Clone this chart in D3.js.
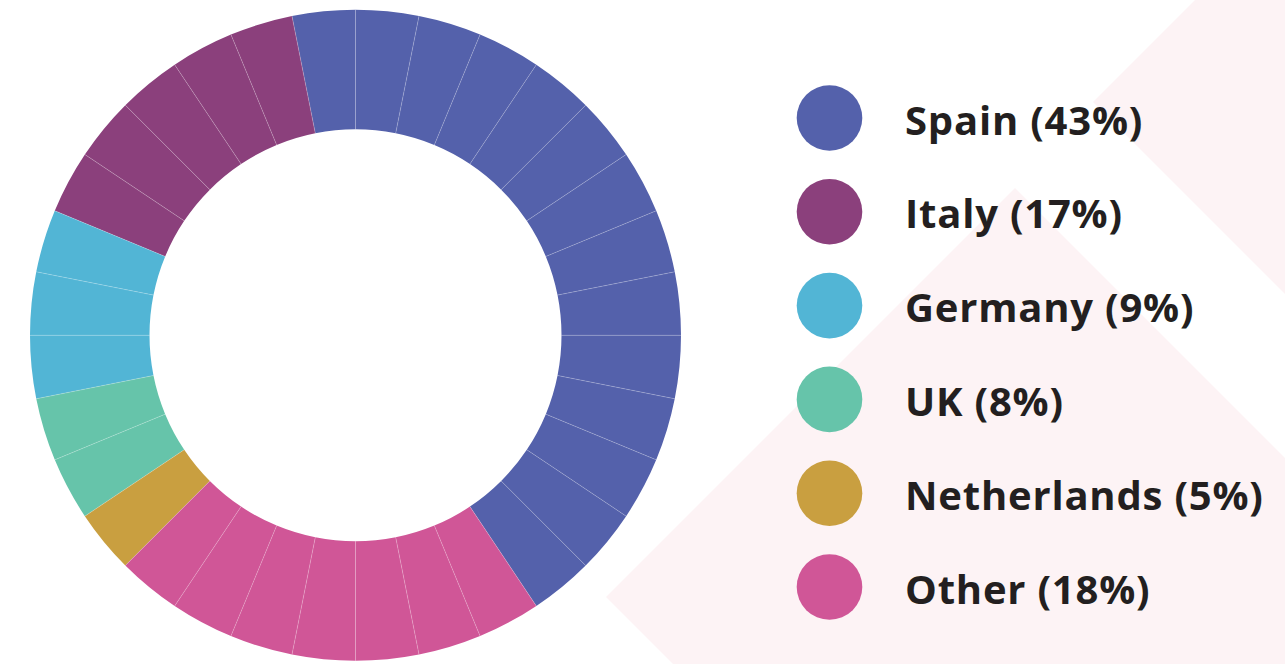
<!DOCTYPE html>
<html>
<head>
<meta charset="utf-8">
<script src="https://cdn.jsdelivr.net/npm/d3@7"></script>
<style>
  html, body { margin: 0; padding: 0; background: #ffffff; }
  svg { display: block; }
</style>
</head>
<body>
<div id="chart"></div>
<script>
// ---------------- data ----------------
const countries = ["Spain", "Italy", "Germany", "UK", "Netherlands", "Other"];
const shares    = [43, 17, 9, 8, 5, 18];          // legend percentages
const segments  = [14, 5, 3, 2, 1, 7];            // small wedges drawn per country
const colours   = ["#5461ab", "#8b407c", "#52b5d5", "#66c4aa", "#c99f40", "#d05697"];

const width = 1285, height = 664;

let svg = d3.select("#chart")
            .append("svg")
            .attr("width", width)
            .attr("height", height)

// pale background shapes
svg.append("rect").attr("width", width).attr("height", height).style("fill", "#ffffff")
svg.append("polygon")
   .attr("points", "1015,188 1285,458 1285,664 673,664 606,597")
   .style("fill", "#fdf3f5")
svg.append("polygon")
   .attr("points", "1195,0 1285,0 1285,294 1093,102")
   .style("fill", "#fdf3f5")

// ---------------- donut ----------------
const cx = 355.5, cy = 335.3, rOuter = 325.5, rInner = 206;
const deg = Math.PI / 180;

// countries run counter-clockwise, Spain ending just left of 12 o'clock
const pie = d3.pie()
              .sort(null)
              .value(d => d.segments)
              .startAngle(146.25 * deg)
              .endAngle((146.25 - 360) * deg)

const rows = countries.map((c, i) => ({country: c, share: shares[i], segments: segments[i], colour: colours[i]}))
const slices = pie(rows)

// split every country slice into its equal wedges
let wedges = []
slices.forEach(s => {
    const n = s.data.segments
    for (let j = 0; j < n; j++) {
        wedges.push({
            colour: s.data.colour,
            startAngle: s.startAngle + (s.endAngle - s.startAngle) * j / n,
            endAngle: s.startAngle + (s.endAngle - s.startAngle) * (j + 1) / n
        })
    }
})

const arc = d3.arc().innerRadius(rInner).outerRadius(rOuter)

let donut = svg.append("g").attr("transform", `translate(${cx},${cy})`)

donut.selectAll("path")
     .data(wedges)
     .enter()
     .append("path")
     .attr("d", arc)
     .style("fill", d => d.colour)

// thin light dividers between wedges
donut.selectAll("line")
     .data(wedges)
     .enter()
     .append("line")
     .attr("x1", d => d3.pointRadial(d.startAngle, rInner)[0])
     .attr("y1", d => d3.pointRadial(d.startAngle, rInner)[1])
     .attr("x2", d => d3.pointRadial(d.startAngle, rOuter)[0])
     .attr("y2", d => d3.pointRadial(d.startAngle, rOuter)[1])
     .style("stroke", "#ffffff")
     .style("stroke-opacity", 0.28)
     .style("stroke-width", 0.8)

// ---------------- legend ----------------
const legendY = d3.scalePoint().domain(countries).range([118, 587])

let legend = svg.append("g")

legend.selectAll("circle")
      .data(rows)
      .enter()
      .append("circle")
      .attr("cx", 829.5)
      .attr("cy", d => legendY(d.country))
      .attr("r", 32.8)
      .style("fill", d => d.colour)

legend.selectAll("text")
      .data(rows)
      .enter()
      .append("text")
      .attr("x", 905)
      .attr("y", d => legendY(d.country) + 16.5)
      .style("font-family", "'Open Sans', sans-serif")
      .style("font-weight", 700)
      .style("font-size", "40px")
      .style("letter-spacing", "0.8px")
      .style("fill", "#231f20")
      .text(d => `${d.country} (${d.share}%)`)
</script>
</body>
</html>
